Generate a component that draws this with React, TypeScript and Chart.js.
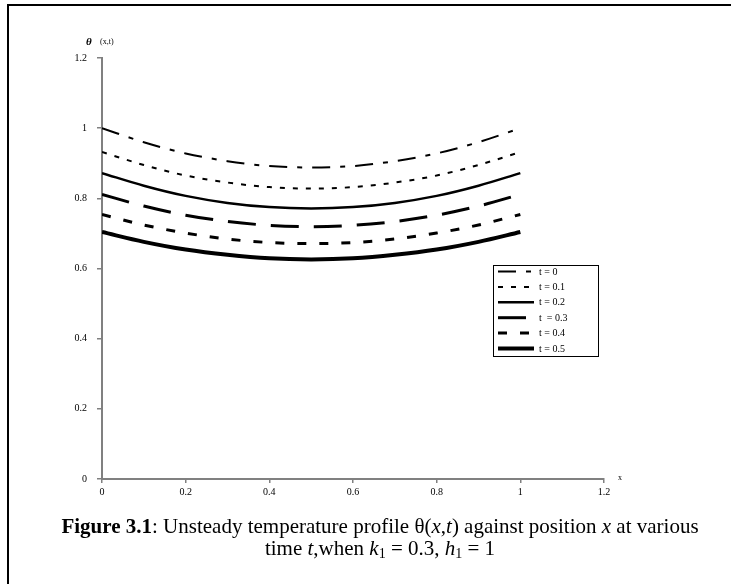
import React, { useEffect, useRef } from "react";
import { Chart, registerables } from "chart.js";

Chart.register(...registerables);

// ---- data ----
const xPositions = [0, 0.1, 0.2, 0.3, 0.4, 0.5, 0.6, 0.7, 0.8, 0.9, 1];
const seriesLabels = ["t = 0", "t = 0.1", "t = 0.2", "t  = 0.3", "t = 0.4", "t = 0.5"];
const thetaT0 = [1.0, 0.96, 0.928, 0.906, 0.892, 0.888, 0.892, 0.906, 0.928, 0.96, 1.0];
const thetaT01 = [0.932, 0.895, 0.865, 0.845, 0.832, 0.828, 0.832, 0.845, 0.865, 0.895, 0.932];
const thetaT02 = [0.872, 0.836, 0.807, 0.787, 0.775, 0.771, 0.775, 0.787, 0.807, 0.836, 0.872];
const thetaT03 = [0.811, 0.778, 0.752, 0.734, 0.723, 0.719, 0.723, 0.734, 0.752, 0.778, 0.811];
const thetaT04 = [0.754, 0.724, 0.701, 0.684, 0.674, 0.671, 0.674, 0.684, 0.701, 0.724, 0.754];
const thetaT05 = [0.704, 0.676, 0.654, 0.639, 0.629, 0.626, 0.629, 0.639, 0.654, 0.676, 0.704];
const xTickValues = [0, 0.2, 0.4, 0.6, 0.8, 1, 1.2];
const yTickValues = [0, 0.2, 0.4, 0.6, 0.8, 1, 1.2];
const xTickLabels = ["0", "0.2", "0.4", "0.6", "0.8", "1", "1.2"];
const yTickLabels = ["0", "0.2", "0.4", "0.6", "0.8", "1", "1.2"];

const seriesValues = [thetaT0, thetaT01, thetaT02, thetaT03, thetaT04, thetaT05];

// ---- styles ----
const lineStyles = [
  { dash: [18, 10, 5, 10], width: 2 },
  { dash: [5, 8], width: 2 },
  { dash: [], width: 2.5 },
  { dash: [28, 15], width: 3 },
  { dash: [9, 13], width: 3 },
  { dash: [], width: 4 },
];

const SERIF = '"Liberation Serif", "Times New Roman", serif';

const overlayPlugin = {
  id: "overlay",
  afterDraw(chart: any) {
    const ctx = chart.ctx as CanvasRenderingContext2D;
    ctx.save();
    // legend box
    const lx = 493, ly = 265, lw = 105, lh = 91;
    ctx.fillStyle = "#fff";
    ctx.fillRect(lx, ly, lw, lh);
    ctx.strokeStyle = "#000";
    ctx.lineWidth = 1;
    ctx.setLineDash([]);
    ctx.strokeRect(lx + 0.5, ly + 0.5, lw, lh);
    chart.data.datasets.forEach((ds: any, i: number) => {
      const y = 271.5 + i * 15.4;
      ctx.beginPath();
      ctx.setLineDash(ds.borderDash || []);
      ctx.lineWidth = ds.borderWidth;
      ctx.strokeStyle = "#000";
      ctx.lineCap = "butt";
      ctx.moveTo(498, y);
      ctx.lineTo(534, y);
      ctx.stroke();
      ctx.setLineDash([]);
      ctx.fillStyle = "#000";
      ctx.font = `10px ${SERIF}`;
      ctx.textBaseline = "middle";
      ctx.textAlign = "left";
      ctx.fillText(ds.label, 539, y + 0.5);
    });
    // y axis title
    ctx.fillStyle = "#000";
    ctx.textBaseline = "middle";
    ctx.textAlign = "left";
    ctx.font = `italic bold 11px ${SERIF}`;
    ctx.fillText("θ", 86, 42);
    ctx.font = `8px ${SERIF}`;
    ctx.fillText("(x,t)", 100, 42);
    // x axis title
    ctx.font = `8px ${SERIF}`;
    ctx.fillText("x", 618, 478);
    ctx.restore();
  },
};

export default function App() {
  const canvasRef = useRef<HTMLCanvasElement | null>(null);

  useEffect(() => {
    if (!canvasRef.current) return;
    const datasets = seriesValues.map((vals, i) => ({
      label: seriesLabels[i],
      data: xPositions.map((x, j) => ({ x, y: vals[j] })),
      borderColor: "#000",
      backgroundColor: "#000",
      borderWidth: lineStyles[i].width,
      borderDash: lineStyles[i].dash,
      pointRadius: 0,
      fill: false,
      tension: 0.4,
      cubicInterpolationMode: "monotone" as const,
    }));
    const chart = new Chart(canvasRef.current, {
      type: "line",
      data: { datasets },
      options: {
        responsive: false,
        animation: false,
        layout: { padding: { left: 0, top: 58, right: 127, bottom: 0 } },
        plugins: { legend: { display: false }, tooltip: { enabled: false } },
        scales: {
          x: {
            type: "linear",
            min: 0,
            max: 1.2,
            afterBuildTicks: (scale: any) => {
              scale.ticks = xTickValues.map((v) => ({ value: v }));
            },
            afterFit: (scale: any) => {
              scale.height = 105;
            },
            grid: { drawOnChartArea: false, drawTicks: true, tickLength: 4, color: "#808080", lineWidth: 1.5 },
            border: { display: true, color: "#808080", width: 2 },
            ticks: {
              color: "#000",
              font: { family: SERIF, size: 10 },
              padding: 3,
              maxRotation: 0,
              autoSkip: false,
              callback: (_v: any, i: number) => xTickLabels[i],
            },
          },
          y: {
            type: "linear",
            min: 0,
            max: 1.2,
            afterBuildTicks: (scale: any) => {
              scale.ticks = yTickValues.map((v) => ({ value: v }));
            },
            afterFit: (scale: any) => {
              scale.width = 102;
            },
            grid: { drawOnChartArea: false, drawTicks: true, tickLength: 5, color: "#808080", lineWidth: 1.5 },
            border: { display: true, color: "#808080", width: 2 },
            ticks: {
              color: "#000",
              font: { family: SERIF, size: 10 },
              padding: 10,
              autoSkip: false,
              callback: (_v: any, i: number) => yTickLabels[i],
            },
          },
        },
      },
      plugins: [overlayPlugin],
    });
    return () => chart.destroy();
  }, []);

  return (
    <div style={{ position: "fixed", left: 0, top: 0, width: 731, height: 584, overflow: "hidden", fontFamily: SERIF, background: "#fff" }}>
      <div
        style={{
          position: "absolute",
          left: 7,
          top: 4,
          width: 760,
          height: 620,
          border: "2px solid #000",
          boxSizing: "border-box",
        }}
      />
      <canvas ref={canvasRef} width={731} height={584} style={{ position: "absolute", left: 0, top: 0 }} />
      <div
        style={{
          position: "absolute",
          left: 0,
          width: 760,
          top: 515,
          textAlign: "center",
          fontSize: 21,
          lineHeight: "22px",
          whiteSpace: "nowrap",
          color: "#000",
        }}
      >
        <b>Figure 3.1</b>: Unsteady temperature profile θ(<i>x</i>,<i>t</i>) against position <i>x</i> at various
        <br />
        time <i>t</i>,when <i>k</i>
        <sub style={{ fontSize: 14, verticalAlign: "-3px", lineHeight: 0 }}>1</sub> = 0.3, <i>h</i>
        <sub style={{ fontSize: 14, verticalAlign: "-3px", lineHeight: 0 }}>1</sub> = 1
      </div>
    </div>
  );
}
